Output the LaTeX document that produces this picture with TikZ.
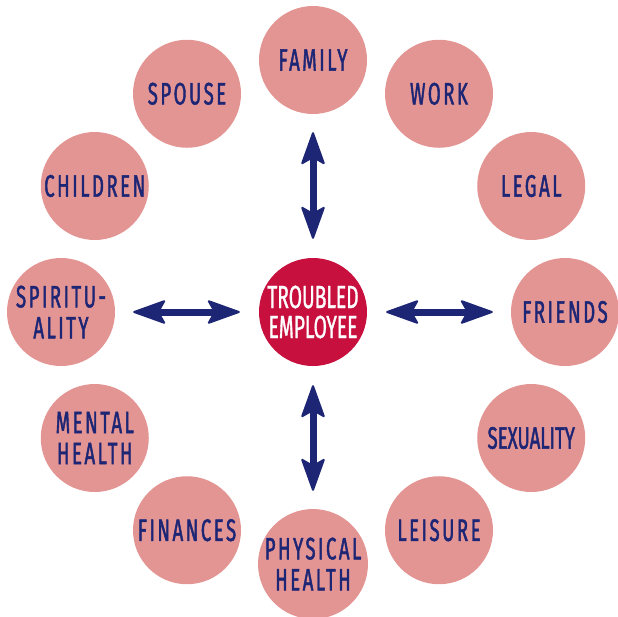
\documentclass[tikz,border=0pt]{standalone}
\usepackage{fontspec}
\setmainfont{Fira Sans}
\newfontfamily\lblfont{Fira Sans}[FakeStretch=0.6,LetterSpace=8,FakeBold=1.4]
\newfontfamily\tightfont{Fira Sans}[FakeStretch=0.6,FakeBold=1.4]
\newfontfamily\hubfont{Fira Sans}[FakeStretch=0.6,FakeBold=1.0]
\usetikzlibrary{arrows.meta}
\definecolor{pinkc}{HTML}{E39593}
\definecolor{crim}{HTML}{C8103E}
\definecolor{navy}{HTML}{1D2575}
\begin{document}
\begin{tikzpicture}[x=1pt,y=1pt,
  outer/.style={circle, fill=pinkc, minimum size=108pt, inner sep=0pt, text=navy, align=center,
    font=\lblfont\fontsize{31}{31}\selectfont},
  tight/.style={font=\tightfont\fontsize{31}{31}\selectfont},
  hub/.style={circle, fill=crim, minimum size=108pt, inner sep=0pt, text=white, align=center,
    font=\hubfont\fontsize{32}{30}\selectfont},
  link/.style={draw=navy, line width=7pt,
    {Stealth[length=35pt,width=25pt,inset=7pt,round,line width=2pt]}-{Stealth[length=35pt,width=25pt,inset=7pt,round,line width=2pt]},
    shorten <=19pt, shorten >=18pt}]
\useasboundingbox (0,0) rectangle (618,-616);
\node[hub] (c) at (313,-312) {TROUBLED\\EMPLOYEE};
\node[outer] (family) at ([shift={(90:252)}]c) {FAMILY};
\node[outer] (work) at ([shift={(60:252)}]c) {WORK};
\node[outer] (legal) at ([shift={(30:252)}]c) {LEGAL};
\node[outer] (friends) at ([shift={(0:252)}]c) {FRIENDS};
\node[outer,tight] (sex) at ([shift={(-30:252)}]c) {SEXUALITY};
\node[outer] (leisure) at ([shift={(-60:252)}]c) {LEISURE};
\node[outer] (phys) at ([shift={(-90:252)}]c) {PHYSICAL\\HEALTH};
\node[outer] (fin) at ([shift={(-120:252)}]c) {FINANCES};
\node[outer] (mental) at ([shift={(-150:252)}]c) {MENTAL\\HEALTH};
\node[outer] (spirit) at ([shift={(180:252)}]c) {SPIRITU-\\ALITY};
\node[outer] (children) at ([shift={(150:252)}]c) {CHILDREN};
\node[outer] (spouse) at ([shift={(120:252)}]c) {SPOUSE};
\draw[link] (c) -- (family);
\draw[link] (c) -- (friends);
\draw[link] (c) -- (phys);
\draw[link] (c) -- (spirit);
\end{tikzpicture}
\end{document}
